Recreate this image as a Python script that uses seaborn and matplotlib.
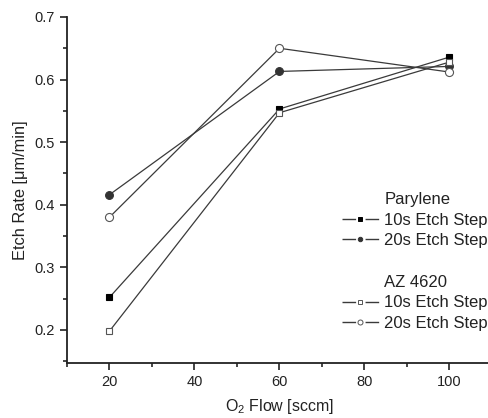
import matplotlib
matplotlib.use("Agg")
import matplotlib.pyplot as plt
from matplotlib.lines import Line2D
from matplotlib.patches import Rectangle
from matplotlib.ticker import MultipleLocator
import seaborn as sns
import pandas as pd

flow = [20, 60, 100]
parylene_10s = [0.252, 0.553, 0.636]
parylene_20s = [0.416, 0.613, 0.621]
az_10s = [0.198, 0.547, 0.628]
az_20s = [0.380, 0.650, 0.612]

sns.set_style("ticks")
plt.rcParams['font.family'] = ['Liberation Sans', 'DejaVu Sans']
plt.rcParams['mathtext.fontset'] = 'custom'
plt.rcParams['mathtext.rm'] = 'Liberation Sans'
plt.rcParams['mathtext.it'] = 'Liberation Sans'

fig = plt.figure(figsize=(4.89, 4.18), dpi=100)
ax = fig.add_axes([67/489, 1-363/418, (492-67)/489, (363-17)/418])

line_c = '#3a3a3a'
series = [
    ("Parylene 10s", parylene_10s, dict(marker='s', mfc='black', mec='black', ms=4.6), 2.8),
    ("Parylene 20s", parylene_20s, dict(marker='o', mfc='#333333', mec='#333333', ms=5.6), 3.2),
    ("AZ 10s", az_10s, dict(marker='s', mfc='white', mec='#555555', ms=4.8), 3.2),
    ("AZ 20s", az_20s, dict(marker='o', mfc='white', mec='#555555', ms=5.8), 3.6),
]
handles = []
for name, vals, mk, lms in series:
    df = pd.DataFrame({"flow": flow, "rate": vals})
    sns.lineplot(data=df, x="flow", y="rate", ax=ax, color=line_c, lw=0.9,
                 mew=0.8, **mk)
    handles.append(Line2D([], [], color=line_c, lw=1.0, mew=0.7,
                          marker=mk['marker'], mfc=mk['mfc'], mec=mk['mec'],
                          ms=lms, dashes=(9.8, 6.8, 9.8, 50)))

ax.set_xlim(10, 110)
ax.set_ylim(0.147, 0.7)
ax.set_xticks([20, 40, 60, 80, 100])
ax.xaxis.set_minor_locator(MultipleLocator(10))
ax.yaxis.set_major_locator(MultipleLocator(0.1))
ax.yaxis.set_minor_locator(MultipleLocator(0.05))
ax.tick_params(which='major', direction='out', length=5, width=1.2, labelsize=10.5,
               colors='#222222')
ax.tick_params(which='minor', direction='out', length=3, width=1.2)
for s in ['top', 'right']:
    ax.spines[s].set_visible(False)
for s in ['left', 'bottom']:
    ax.spines[s].set_linewidth(1.3)
    ax.spines[s].set_color('#222222')

ax.set_xlabel("O$_2$ Flow [sccm]", fontsize=11.5, color='#222222', labelpad=6)
ax.set_ylabel("Etch Rate [\u03bcm/min]", fontsize=11.8, color='#222222', labelpad=5)

blank = Rectangle((0, 0), 1, 1, fill=False, edgecolor='none', visible=False)
leg_h = [blank, handles[0], handles[1], blank, blank, handles[2], handles[3]]
leg_l = ["Parylene", "10s Etch Step", "20s Etch Step", "", "AZ 4620",
         "10s Etch Step", "20s Etch Step"]
leg = ax.legend(leg_h, leg_l, frameon=False, fontsize=12, loc='upper left',
                handlelength=2.2, handletextpad=0.35, labelspacing=0.34,
                borderpad=0, borderaxespad=0)
leg.set_bbox_to_anchor((342/489, 1-192/418), transform=fig.transFigure)
for t in leg.get_texts():
    t.set_color('#222222')

fig.savefig("out.png", dpi=100)
